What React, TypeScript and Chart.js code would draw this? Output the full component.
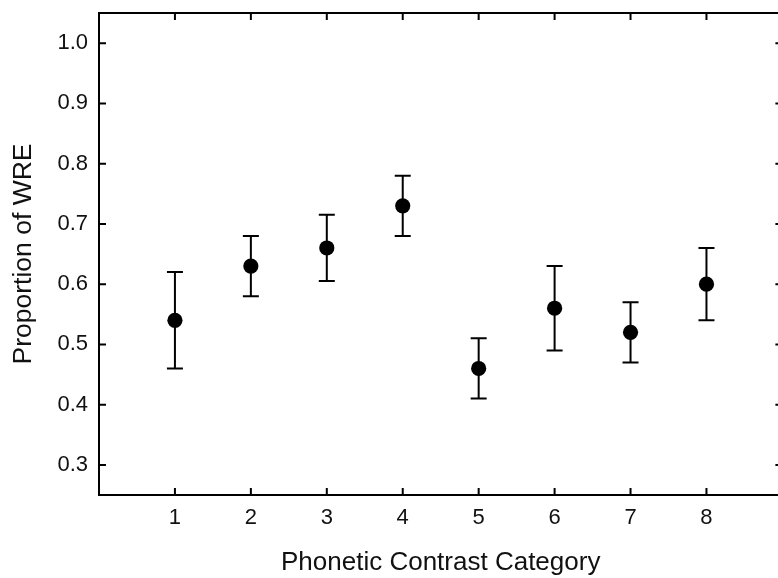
import React, { useEffect, useRef } from "react";
import { Chart, registerables } from "chart.js";

Chart.register(...registerables);

const categories = [1, 2, 3, 4, 5, 6, 7, 8];
const means = [0.54, 0.63, 0.66, 0.73, 0.46, 0.56, 0.52, 0.6];
const upper = [0.62, 0.68, 0.715, 0.78, 0.51, 0.63, 0.57, 0.66];
const lower = [0.46, 0.58, 0.605, 0.68, 0.41, 0.49, 0.47, 0.54];
const xTicks = [1, 2, 3, 4, 5, 6, 7, 8];
const yTicks = [0.3, 0.4, 0.5, 0.6, 0.7, 0.8, 0.9, 1.0];
const xTitle = "Phonetic Contrast Category";
const yTitle = "Proportion of WRE";

const FONT = "'Liberation Sans', Arial, sans-serif";
const INK = "#000";
const TEXT = "#111";

const errorBarPlugin = {
  id: "errorBars",
  beforeDatasetsDraw(chart: any) {
    const { ctx, scales } = chart;
    const xs = scales.x;
    const ys = scales.y;
    const cap = 8;
    ctx.save();
    ctx.strokeStyle = INK;
    ctx.lineWidth = 2;
    categories.forEach((c, i) => {
      const px = xs.getPixelForValue(c);
      const pu = ys.getPixelForValue(upper[i]);
      const pl = ys.getPixelForValue(lower[i]);
      ctx.beginPath();
      ctx.moveTo(px, pu);
      ctx.lineTo(px, pl);
      ctx.moveTo(px - cap, pu);
      ctx.lineTo(px + cap, pu);
      ctx.moveTo(px - cap, pl);
      ctx.lineTo(px + cap, pl);
      ctx.stroke();
    });
    ctx.restore();
  },
};

const framePlugin = {
  id: "frame",
  afterDraw(chart: any) {
    const { ctx, chartArea, scales } = chart;
    const { left, right, top, bottom } = chartArea;
    const tl = 7;
    ctx.save();
    ctx.strokeStyle = INK;
    ctx.lineWidth = 2;
    ctx.beginPath();
    ctx.moveTo(left - 1, top);
    ctx.lineTo(right, top);
    ctx.moveTo(right, top);
    ctx.lineTo(right, bottom);
    scales.x.ticks.forEach((t: any) => {
      const px = scales.x.getPixelForValue(t.value);
      ctx.moveTo(px, bottom);
      ctx.lineTo(px, bottom - tl);
      ctx.moveTo(px, top);
      ctx.lineTo(px, top + tl);
    });
    scales.y.ticks.forEach((t: any) => {
      const py = scales.y.getPixelForValue(t.value);
      ctx.moveTo(left, py);
      ctx.lineTo(left + tl, py);
      ctx.moveTo(right, py);
      ctx.lineTo(right - tl, py);
    });
    ctx.stroke();
    ctx.restore();
  },
};

export default function App() {
  const ref = useRef<HTMLCanvasElement>(null);
  useEffect(() => {
    const chart = new Chart(ref.current as HTMLCanvasElement, {
      type: "scatter",
      data: {
        datasets: [
          {
            data: categories.map((c, i) => ({ x: c, y: means[i] })),
            pointRadius: 7.6,
            pointHoverRadius: 7.6,
            backgroundColor: INK,
            borderWidth: 0,
          },
        ],
      },
      options: {
        responsive: false,
        animation: false,
        events: [],
        layout: { padding: { top: 13, right: 3, bottom: 0, left: 0 } },
        plugins: { legend: { display: false }, tooltip: { enabled: false } },
        scales: {
          x: {
            type: "linear",
            position: "bottom",
            min: 0,
            max: 9,
            afterBuildTicks: (s: any) => {
              s.ticks = xTicks.map((v) => ({ value: v }));
            },
            afterFit: (s: any) => {
              s.height = 83;
              s.paddingLeft = 0;
              s.paddingRight = 0;
            },
            grid: { display: false, drawTicks: false },
            border: { display: true, color: INK, width: 2 },
            ticks: {
              color: TEXT,
              font: { family: FONT, size: 22 },
              padding: 10,
              maxRotation: 0,
              autoSkip: false,
              callback: (v: any) => String(v),
            },
            title: {
              display: true,
              text: xTitle,
              color: TEXT,
              font: { family: FONT, size: 26 },
              padding: { top: 0, bottom: 0 },
            },
          },
          y: {
            type: "linear",
            position: "left",
            min: 0.25,
            max: 1.05,
            afterBuildTicks: (s: any) => {
              s.ticks = yTicks.map((v) => ({ value: v }));
            },
            afterFit: (s: any) => {
              s.width = 99;
              s.paddingTop = 0;
              s.paddingBottom = 0;
            },
            grid: { display: false, drawTicks: false },
            border: { display: true, color: INK, width: 2 },
            ticks: {
              color: TEXT,
              font: { family: FONT, size: 22 },
              padding: 11,
              autoSkip: false,
              callback: (v: any) => Number(v).toFixed(1),
            },
            title: {
              display: true,
              text: yTitle,
              color: TEXT,
              font: { family: FONT, size: 26.5 },
              padding: { top: 8, bottom: 0 },
            },
          },
        },
      },
      plugins: [errorBarPlugin, framePlugin],
    } as any);
    return () => chart.destroy();
  }, []);
  return (
    <div
      style={{
        position: "absolute",
        left: 0,
        top: 0,
        width: 778,
        height: 578,
        overflow: "hidden",
        background: "#fff",
      }}
    >
      <canvas ref={ref} width={790} height={578} style={{ display: "block" }} />
    </div>
  );
}
